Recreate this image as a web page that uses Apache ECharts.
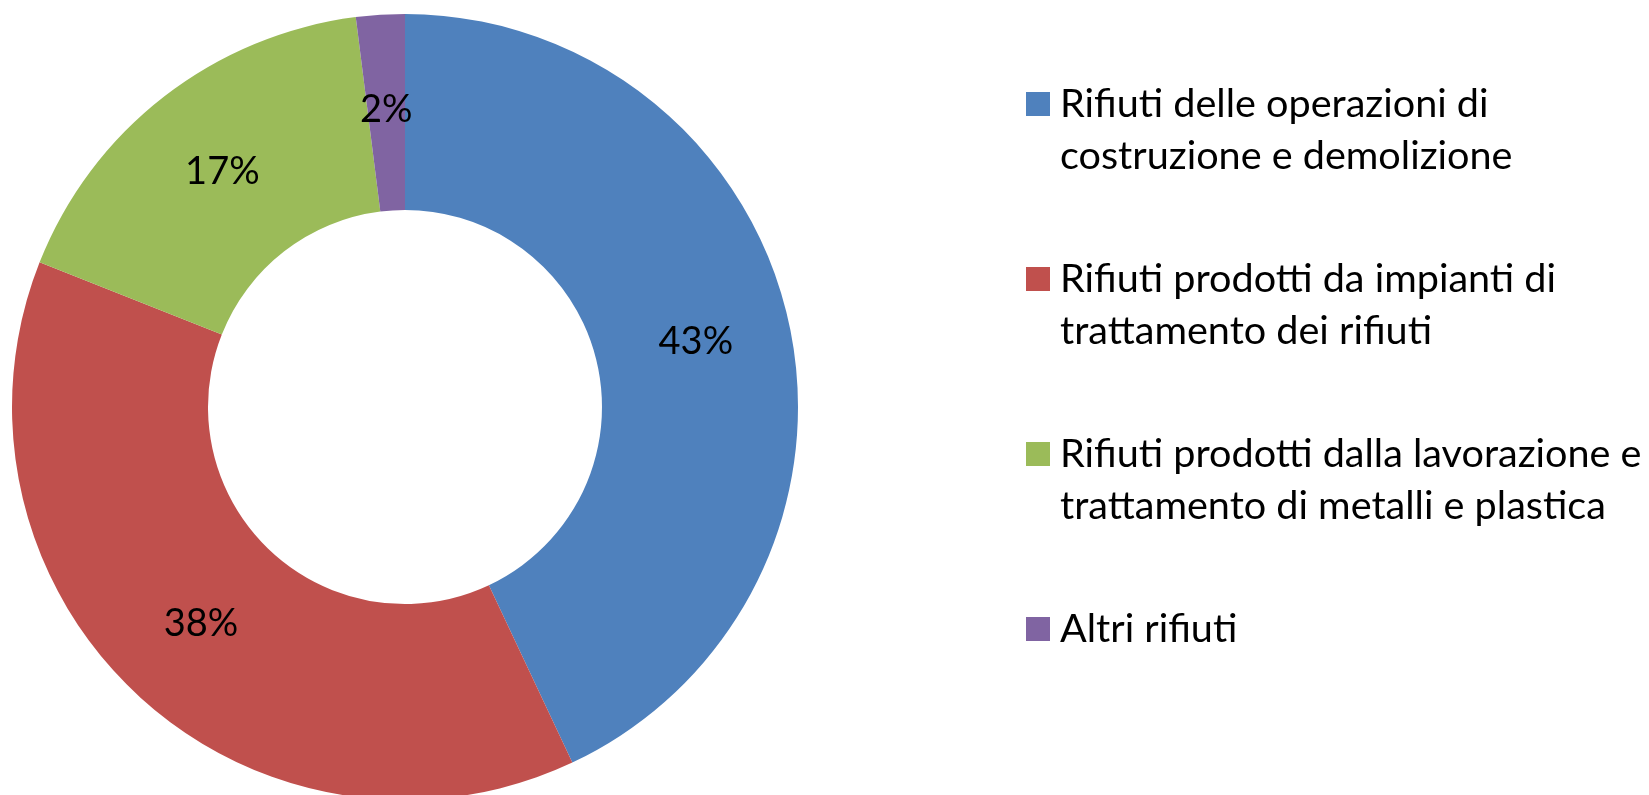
<!DOCTYPE html>
<html>
<head>
<meta charset="utf-8">
<script src="https://cdn.jsdelivr.net/npm/echarts@6/dist/echarts.min.js"></script>
<style>
  html, body { margin: 0; padding: 0; background: #ffffff; }
  #chart { width: 1649px; height: 795px; }
</style>
</head>
<body>
<div id="chart"></div>
<script>
// Waste categories (legend text, wrapped onto two lines where needed)
const categories = [
  'Rifiuti delle operazioni di\ncostruzione e demolizione',
  'Rifiuti prodotti da impianti di\ntrattamento dei rifiuti',
  'Rifiuti prodotti dalla lavorazione e\ntrattamento di metalli e plastica',
  'Altri rifiuti'
];
// Share of each category, in percent
const shares = [43, 38, 17, 2];
const colors = ['#4F81BD', '#C0504D', '#9BBB59', '#8064A2'];

const FONT = 'Lato';
const LEGEND_FONT = 39.6;
const LINE_H = 52;
const LEGEND_LEFT = 1026;
const FIRST_ITEM_Y = 104;   // vertical centre of the first legend square
const ITEM_STEP = 175;      // distance between legend squares

const chart = echarts.init(document.getElementById('chart'), null, { renderer: 'canvas' });

// One legend block per category so each square can sit beside the
// first line of its (possibly two-line) caption.
const legends = categories.map(function (name, i) {
  const lines = name.split('\n').length;
  const iconY = FIRST_ITEM_Y + i * ITEM_STEP;
  // A leading empty line puts the first text line level with the square.
  const twoLine = lines > 1;
  const blockH = twoLine ? LINE_H * 3 : LINE_H;
  return {
    orient: 'vertical',
    left: LEGEND_LEFT,
    top: iconY - blockH / 2,
    padding: 0,
    icon: 'rect',
    itemWidth: 24,
    itemHeight: 24,
    selectedMode: false,
    formatter: function (n) { return twoLine ? '\n' + n : n; },
    textStyle: {
      fontFamily: FONT,
      fontSize: LEGEND_FONT,
      lineHeight: LINE_H,
      color: '#000000',
      padding: [0, 0, 0, 5]
    },
    data: [name]
  };
});

chart.setOption({
  backgroundColor: '#ffffff',
  animation: false,
  color: colors,
  legend: legends,
  series: [{
    type: 'pie',
    center: [405, 407],
    radius: [197, 393],
    startAngle: 90,
    clockwise: true,
    avoidLabelOverlap: false,
    itemStyle: { borderWidth: 0 },
    emphasis: { scale: false },
    label: {
      show: true,
      position: 'inside',
      formatter: '{c}%',
      fontFamily: FONT,
      fontSize: 38,
      color: '#000000'
    },
    labelLine: { show: false },
    data: categories.map(function (name, i) {
      return { name: name, value: shares[i] };
    })
  }]
});
</script>
</body>
</html>
